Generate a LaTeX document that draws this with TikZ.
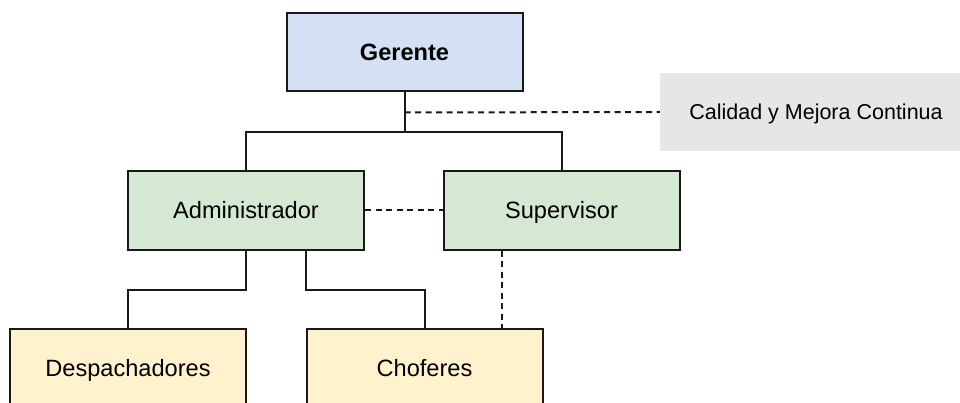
\documentclass[tikz,border=0pt]{standalone}
\usepackage{fontspec}
\setmainfont{Liberation Sans}
\usetikzlibrary{calc}
\definecolor{boxblue}{HTML}{D4E1F5}
\definecolor{boxgreen}{HTML}{D5E8D4}
\definecolor{boxyellow}{HTML}{FFF2CC}
\definecolor{boxgray}{HTML}{E6E6E6}
\tikzset{
  orgbox/.style={draw=black!90, line width=2pt, inner sep=0pt,
    minimum width=236pt, minimum height=78pt,
    text height=17pt, text depth=0pt,
    font=\fontsize{23.6}{28}\selectfont},
  link/.style={line width=2pt, black!90},
  dottedlink/.style={line width=2pt, black!90, dash pattern=on 6pt off 4.5pt},
}
\begin{document}
\begin{tikzpicture}[x=1pt, y=-1pt]
  \useasboundingbox (0,0) rectangle (960,403);
  \clip (0,0) rectangle (960,403);

  % boxes
  \node[orgbox, fill=boxblue, font=\fontsize{23.6}{28}\selectfont\bfseries] (ger) at (404.5,52.5) {Gerente};
  \node[fill=boxgray, inner sep=0pt, minimum width=312pt, minimum height=78pt,
        text height=15.4pt, text depth=0pt,
        font=\fontsize{21.5}{26}\selectfont] (cal) at (816,112) {Calidad y Mejora Continua};
  \node[orgbox, fill=boxgreen] (adm) at (246,210.5) {Administrador};
  \node[orgbox, fill=boxgreen] (sup) at (561.5,210.5) {Supervisor};
  \node[orgbox, fill=boxyellow] (des) at (128,367.5) {Despachadores};
  \node[orgbox, fill=boxyellow] (cho) at (424.5,367.5) {Choferes};

  % solid reporting lines
  \draw[link] (ger.south) -- ++(0,40) coordinate (gbus) -| (adm.north);
  \draw[link] (gbus) -| (sup.north);
  \draw[link] (adm.south) -- ++(0,39) -| (des.north);
  \coordinate (admr) at ($(adm.south)!0.5!(adm.south east)$);
  \draw[link] (admr) -- ++(0,39) -| (cho.north);

  % dashed advisory lines
  \draw[dottedlink] ($(ger.south)+(0,20)$) -- (cal.west);
  \draw[dottedlink] (adm.east) -- (sup.west);
  \coordinate (supl) at ($(sup.south west)!0.25!(sup.south east)$);
  \draw[dottedlink] (supl) -- (supl |- cho.north);
\end{tikzpicture}
\end{document}
